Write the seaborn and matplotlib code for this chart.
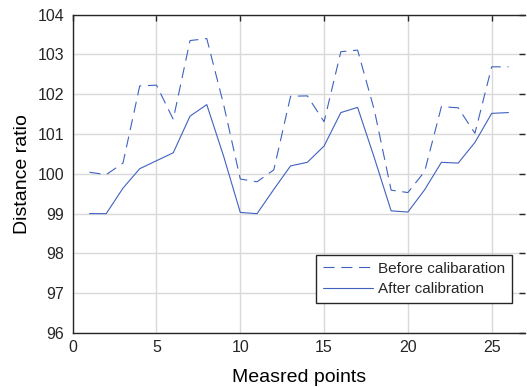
import matplotlib
matplotlib.use("Agg")
import matplotlib.pyplot as plt
import seaborn as sns
import pandas as pd

points = list(range(1, 27))
before = [100.04, 99.98, 100.27, 102.21, 102.23, 101.37, 103.35, 103.40, 101.75, 99.87,
          99.80, 100.10, 101.95, 101.96, 101.31, 103.07, 103.11, 101.60, 99.59, 99.53,
          100.06, 101.69, 101.66, 101.02, 102.69, 102.69]
after = [99.00, 99.00, 99.64, 100.13, 100.33, 100.53, 101.45, 101.74, 100.45, 99.03,
         99.00, 99.61, 100.20, 100.29, 100.70, 101.54, 101.67, 100.40, 99.07, 99.04,
         99.60, 100.29, 100.27, 100.79, 101.52, 101.54]
labels = ["Before calibaration", "After calibration"]
xticks = [0, 5, 10, 15, 20, 25]
yticks = [96, 97, 98, 99, 100, 101, 102, 103, 104]

sns.set_style("white")
plt.rcParams['font.family'] = ['Liberation Sans', 'DejaVu Sans']

df = pd.DataFrame({"x": points * 2,
                   "y": before + after,
                   "series": [labels[0]] * len(points) + [labels[1]] * len(points)})

fig = plt.figure(figsize=(5.27, 3.87), dpi=100)
ax = fig.add_axes([72.7 / 527, (387 - 333) / 387, (525.2 - 72.7) / 527, (333 - 14.7) / 387])

color = "#4062BF"
sns.lineplot(data=df, x="x", y="y", style="series", style_order=labels,
             dashes={labels[0]: (10, 6), labels[1]: ""},
             color=color, linewidth=0.8, ax=ax, legend=True)

ax.set_xlim(0, 27)
ax.set_ylim(96, 104)
ax.set_xticks(xticks)
ax.set_yticks(yticks)
ax.grid(True, color="#d9d9d9", linewidth=1.0)
ax.set_axisbelow(True)
ax.tick_params(direction="in", length=4, width=1, labelsize=11.5, colors="#262626",
               top=True, right=True)
ax.tick_params(axis="y", pad=6)
ax.tick_params(axis="x", pad=5)
for s in ["left", "bottom", "top"]:
    ax.spines[s].set_color("#262626")
    ax.spines[s].set_linewidth(1.0)
ax.spines["right"].set_visible(False)
ax.set_xlabel("Measred points", fontsize=14, color="black", labelpad=10)
ax.set_ylabel("Distance ratio", fontsize=14, color="black", labelpad=5)

leg = ax.legend(loc="lower right", bbox_to_anchor=(0.9715, 0.095), borderaxespad=0,
                fontsize=11, handlelength=3.3, frameon=True, fancybox=False,
                framealpha=1, edgecolor="#262626", borderpad=0.45, labelspacing=0.4,
                handletextpad=0.35)
leg.get_frame().set_linewidth(1.0)

fig.savefig("out.png", dpi=100)
